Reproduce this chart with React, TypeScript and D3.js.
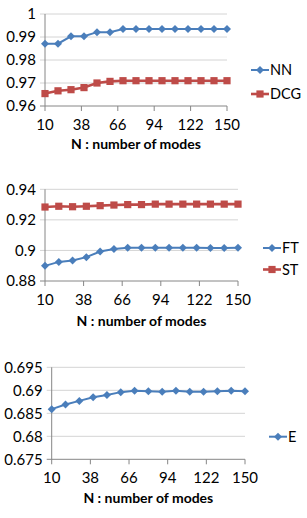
import { useEffect, useRef } from 'react';
import * as d3 from 'd3';

// x positions: number of modes
const modes = [10, 20, 30, 40, 50, 60, 70, 80, 90, 100, 110, 120, 130, 140, 150];
const xTicks = [10, 38, 66, 94, 122, 150];

// chart 1
const nnValues = [0.9871, 0.9871, 0.9903, 0.9903, 0.9921, 0.9921, 0.9935, 0.9935, 0.9935, 0.9935, 0.9935, 0.9935, 0.9935, 0.9935, 0.9935];
const dcgValues = [0.9654, 0.9666, 0.9671, 0.968, 0.97, 0.9707, 0.971, 0.971, 0.971, 0.971, 0.971, 0.971, 0.971, 0.971, 0.971];
const yTicks1 = [0.96, 0.97, 0.98, 0.99, 1];

// chart 2
const ftValues = [0.8899, 0.8925, 0.8934, 0.8956, 0.8993, 0.9009, 0.9017, 0.9017, 0.9018, 0.9017, 0.9017, 0.9017, 0.9016, 0.9016, 0.9017];
const stValues = [0.9284, 0.9289, 0.9286, 0.9289, 0.9293, 0.9297, 0.93, 0.93, 0.9303, 0.9303, 0.9303, 0.9303, 0.9303, 0.9303, 0.9303];
const yTicks2 = [0.88, 0.9, 0.92, 0.94];

// chart 3
const eValues = [0.6859, 0.6869, 0.6877, 0.6885, 0.689, 0.6896, 0.6899, 0.6898, 0.6897, 0.6899, 0.6897, 0.6897, 0.6898, 0.6899, 0.6898];
const yTicks3 = [0.675, 0.68, 0.685, 0.69, 0.695];

const BLUE = '#4a7ebb';
const RED = '#be4b48';
const FONT = 'Lato, "Open Sans", sans-serif';

const panels = [
  {
    left: 45, right: 227, plotTop: 14, plotBottom: 106,
    yTicks: yTicks1, fmt: (v) => (v === 1 ? '1' : d3.format('.2f')(v)),
    series: [
      { name: 'NN', values: nnValues, color: BLUE, shape: 'diamond' },
      { name: 'DCG', values: dcgValues, color: RED, shape: 'square' },
    ],
    legendX: 251, legendY: [70, 94], labelY: 125, titleY: 144,
  },
  {
    left: 45, right: 238, plotTop: 189.3, plotBottom: 281,
    yTicks: yTicks2, fmt: (v) => (Math.abs(v - 0.9) < 1e-9 ? '0.9' : d3.format('.2f')(v)),
    series: [
      { name: 'FT', values: ftValues, color: BLUE, shape: 'diamond' },
      { name: 'ST', values: stValues, color: RED, shape: 'square' },
    ],
    legendX: 263, legendY: [248, 269.5], labelY: 300, titleY: 321.5,
  },
  {
    left: 51.7, right: 245, plotTop: 367.3, plotBottom: 459.3,
    yTicks: yTicks3, fmt: (v) => d3.format('.3~f')(v),
    series: [
      { name: 'E', values: eValues, color: BLUE, shape: 'diamond' },
    ],
    legendX: 269, legendY: [436.7], labelY: 478, titleY: 498,
  },
];

function marker(g, shape, x, y, color) {
  if (shape === 'diamond') {
    const r = 4;
    g.append('path')
      .attr('d', `M${x},${y - r}L${x + r},${y}L${x},${y + r}L${x - r},${y}Z`)
      .attr('fill', color);
  } else {
    const s = 3.6;
    g.append('rect')
      .attr('x', x - s).attr('y', y - s)
      .attr('width', s * 2).attr('height', s * 2)
      .attr('fill', color);
  }
}

const App = () => {
  const svgRef = useRef(null);

  useEffect(() => {
    const svg = d3.select(svgRef.current);
    svg.selectAll('*').remove();

    panels.forEach((p) => {
      const g = svg.append('g');
      const x = d3.scaleLinear().domain([10, 150]).range([p.left, p.right]);
      const y = d3.scaleLinear()
        .domain([p.yTicks[0], p.yTicks[p.yTicks.length - 1]])
        .range([p.plotBottom, p.plotTop]);

      // gridlines + y ticks
      p.yTicks.forEach((t) => {
        g.append('line')
          .attr('x1', p.left - 5).attr('x2', p.right)
          .attr('y1', y(t)).attr('y2', y(t))
          .attr('stroke', t === p.yTicks[0] ? '#868686' : '#d4d4d4')
          .attr('stroke-width', 1);
        g.append('text')
          .attr('x', p.left - 9).attr('y', y(t))
          .attr('dy', '0.35em')
          .attr('text-anchor', 'end')
          .attr('font-family', FONT).attr('font-size', 15)
          .attr('fill', '#000')
          .text(p.fmt(t));
      });

      // y axis line
      g.append('line')
        .attr('x1', p.left).attr('x2', p.left)
        .attr('y1', p.plotTop).attr('y2', p.plotBottom)
        .attr('stroke', '#868686');

      // x ticks + labels
      xTicks.forEach((t) => {
        g.append('line')
          .attr('x1', x(t)).attr('x2', x(t))
          .attr('y1', p.plotBottom).attr('y2', p.plotBottom + 5)
          .attr('stroke', '#868686');
        g.append('text')
          .attr('x', x(t)).attr('y', p.labelY)
          .attr('dy', '0.35em')
          .attr('text-anchor', 'middle')
          .attr('font-family', FONT).attr('font-size', 15)
          .text(t);
      });

      g.append('text')
        .attr('x', (p.left + p.right) / 2).attr('y', p.titleY)
        .attr('dy', '0.35em')
        .attr('text-anchor', 'middle')
        .attr('font-family', FONT).attr('font-size', 14).attr('font-weight', 'bold')
        .text('N : number of modes');

      // series
      const line = d3.line().x((d, i) => x(modes[i])).y((d) => y(d));
      p.series.forEach((s, si) => {
        g.append('path')
          .datum(s.values)
          .attr('d', line)
          .attr('fill', 'none')
          .attr('stroke', s.color)
          .attr('stroke-width', s.shape === 'square' ? 2.6 : 2);
        s.values.forEach((v, i) => marker(g, s.shape, x(modes[i]), y(v), s.color));

        // legend
        const ly = p.legendY[si];
        g.append('line')
          .attr('x1', p.legendX).attr('x2', p.legendX + 18)
          .attr('y1', ly).attr('y2', ly)
          .attr('stroke', s.color)
          .attr('stroke-width', s.shape === 'square' ? 2.6 : 2);
        marker(g, s.shape, p.legendX + 9, ly, s.color);
        g.append('text')
          .attr('x', p.legendX + 19).attr('y', ly)
          .attr('dy', '0.35em')
          .attr('font-family', FONT).attr('font-size', 14.5)
          .text(s.name);
      });
    });
  }, []);

  return (
    <svg
      ref={svgRef}
      width={307}
      height={518}
      style={{ position: 'absolute', left: 0, top: 0, background: '#fff' }}
    />
  );
};

export default App;
